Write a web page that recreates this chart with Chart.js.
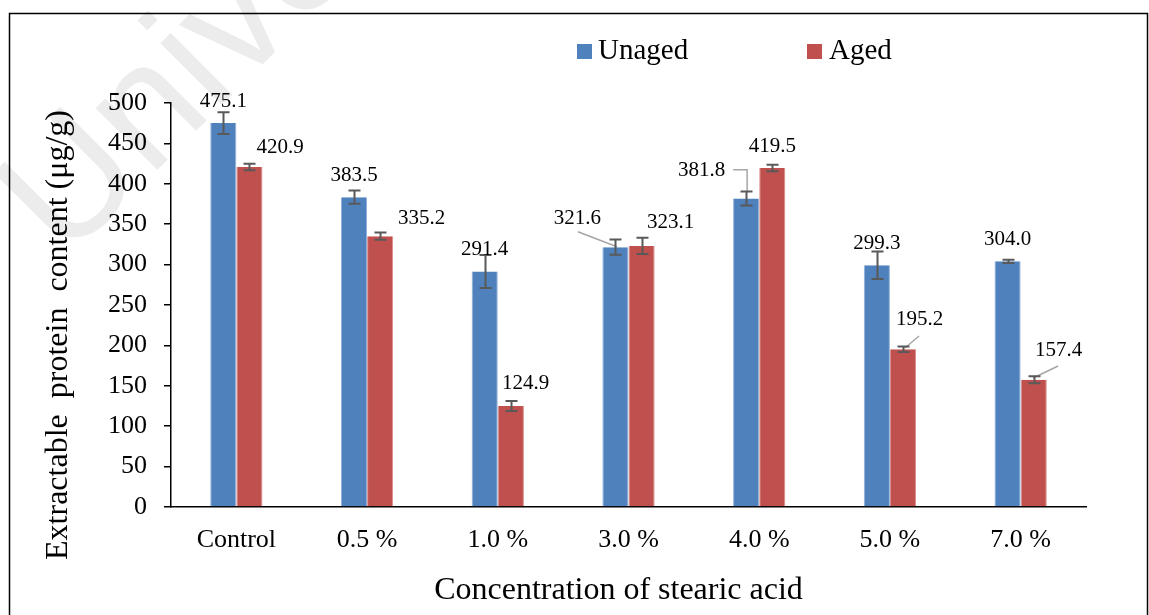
<!DOCTYPE html>
<html>
<head>
<meta charset="utf-8">
<script src="https://cdn.jsdelivr.net/npm/chart.js@4/dist/chart.umd.min.js"></script>
<style>
  html, body { margin: 0; padding: 0; background: #fff; }
  canvas { display: block; }
</style>
</head>
<body>
<canvas id="chart" width="1149" height="615"></canvas>
<script>
// Extractable protein content by stearic acid concentration
const categories = ['Control', '0.5 %', '1.0 %', '3.0 %', '4.0 %', '5.0 %', '7.0 %'];
const seriesNames = ['Unaged', 'Aged'];
const unagedValues = [475.1, 383.5, 291.4, 321.6, 381.8, 299.3, 304.0];
const agedValues = [420.9, 335.2, 124.9, 323.1, 419.5, 195.2, 157.4];
// standard deviations shown as error bars
const unagedErrors = [13.5, 8.3, 20.5, 9.5, 8.7, 17.0, 2.0];
const agedErrors = [4.0, 4.5, 6.2, 10.0, 4.0, 3.3, 4.3];
const yMin = 0, yMax = 500, yStep = 50;
const xTitle = 'Concentration of stearic acid';
const yTitle = 'Extractable  protein  content (μg/g)';

const SERIF = "'Liberation Serif', 'Times New Roman', serif";
const SANS = "'Liberation Sans', Arial, sans-serif";
const COLORS = ['#4F81BD', '#C0504D'];
const EDGES = ['#8FB0DA', '#DA8C8A'];

// label placement: offset of text centre from the top-centre of its bar (px)
const labelOffsets = [
  [[0, -22], [0, -22], [0, -22], [-38, -29], [-44.5, -28], [0, -22], [0, -22]],
  [[30.6, -19.3], [41.5, -18], [14.7, -23], [29, -23], [0, -22], [16.5, -30], [25, -29]]
];
// leader lines: polylines relative to the top-centre of their bar (px)
const leaders = [
  { ds: 0, i: 3, pts: [[-37.5, -15.4], [1.5, -0.4]] },
  { ds: 0, i: 4, pts: [[-13, -28.8], [1, -28.8], [1, -6.8]] },
  { ds: 1, i: 5, pts: [[2, -1.3], [16, -13.3]] },
  { ds: 1, i: 6, pts: [[-0.6, -1.8], [24.4, -13.8]] }
];

const errorSets = [unagedErrors, agedErrors];

const decorations = {
  id: 'decorations',
  beforeDraw(chart) {
    const ctx = chart.ctx;
    ctx.save();
    // faint diagonal watermark
    ctx.fillStyle = '#ececec';
    ctx.font = '165px ' + SANS;
    ctx.translate(65, 262);
    ctx.rotate(-45 * Math.PI / 180);
    ctx.textBaseline = 'alphabetic';
    ctx.fillText('University', 0, 0);
    ctx.restore();

    ctx.save();
    ctx.strokeStyle = '#000';
    ctx.lineWidth = 1.5;
    ctx.strokeRect(9.5, 13.5, 1138, 640);
    ctx.restore();
  },
  afterDatasetsDraw(chart) {
    const ctx = chart.ctx;
    const yScale = chart.scales.y;
    ctx.save();

    // leader lines
    ctx.strokeStyle = '#A6A6A6';
    ctx.lineWidth = 1.5;
    leaders.forEach(l => {
      const bar = chart.getDatasetMeta(l.ds).data[l.i];
      ctx.beginPath();
      l.pts.forEach((p, k) => {
        const x = bar.x + p[0], y = bar.y + p[1];
        if (k === 0) ctx.moveTo(x, y); else ctx.lineTo(x, y);
      });
      ctx.stroke();
    });

    // error bars
    ctx.strokeStyle = '#595959';
    ctx.lineWidth = 2;
    chart.data.datasets.forEach((ds, d) => {
      const meta = chart.getDatasetMeta(d);
      meta.data.forEach((bar, i) => {
        const v = ds.data[i], e = errorSets[d][i];
        const x = Math.round(bar.x) + 0.5;
        const yTop = yScale.getPixelForValue(v + e);
        const yBot = yScale.getPixelForValue(v - e);
        const cap = 6;
        ctx.beginPath();
        ctx.moveTo(x, yTop); ctx.lineTo(x, yBot);
        ctx.moveTo(x - cap, yTop); ctx.lineTo(x + cap, yTop);
        ctx.moveTo(x - cap, yBot); ctx.lineTo(x + cap, yBot);
        ctx.stroke();
      });
    });

    // value labels
    ctx.fillStyle = '#000';
    ctx.font = '21px ' + SERIF;
    ctx.textAlign = 'center';
    ctx.textBaseline = 'middle';
    chart.data.datasets.forEach((ds, d) => {
      const meta = chart.getDatasetMeta(d);
      meta.data.forEach((bar, i) => {
        const o = labelOffsets[d][i];
        ctx.fillText(ds.data[i].toFixed(1), bar.x + o[0], bar.y + o[1]);
      });
    });
    ctx.restore();
  },
  afterDraw(chart) {
    const ctx = chart.ctx;
    ctx.save();
    ctx.fillStyle = '#000';

    // axis titles
    ctx.font = '32px ' + SERIF;
    ctx.textAlign = 'center';
    ctx.textBaseline = 'middle';
    ctx.fillText(xTitle, 618.5, 591);
    ctx.save();
    ctx.translate(59, 335);
    ctx.rotate(-Math.PI / 2);
    ctx.fillText(yTitle, 0, 0);
    ctx.restore();

    // legend row
    const boxX = [577, 807];
    const textX = [598, 829];
    ctx.font = '29px ' + SERIF;
    ctx.textAlign = 'left';
    chart.data.datasets.forEach((ds, d) => {
      ctx.fillStyle = ds.backgroundColor;
      ctx.fillRect(boxX[d], 44, 15, 15);
      ctx.fillStyle = '#000';
      ctx.fillText(ds.label, textX[d], 51.5);
    });
    ctx.restore();
  }
};

new Chart(document.getElementById('chart'), {
  type: 'bar',
  data: {
    labels: categories,
    datasets: [
      { label: seriesNames[0], data: unagedValues, backgroundColor: COLORS[0], borderColor: EDGES[0], borderWidth: { left: 1, right: 1, top: 0, bottom: 0 } },
      { label: seriesNames[1], data: agedValues, backgroundColor: COLORS[1], borderColor: EDGES[1], borderWidth: { left: 1, right: 1, top: 0, bottom: 0 } }
    ]
  },
  options: {
    responsive: false,
    animation: false,
    categoryPercentage: 0.4,
    barPercentage: 1.0,
    layout: { padding: { left: 0, right: 63, top: 103, bottom: 0 } },
    plugins: { legend: { display: false }, tooltip: { enabled: false } },
    scales: {
      x: {
        grid: { display: false, drawTicks: false },
        border: { display: true, color: '#000', width: 1.5 },
        ticks: { font: { family: SERIF, size: 26 }, color: '#000', padding: 18 },
        afterFit(scale) { scale.height = 108; }
      },
      y: {
        min: yMin, max: yMax,
        ticks: { stepSize: yStep, font: { family: SERIF, size: 26 }, color: '#000', padding: 17 },
        grid: { drawOnChartArea: false, drawTicks: true, tickLength: 7, color: '#000', lineWidth: 1.5 },
        border: { display: true, color: '#000', width: 1.5 },
        afterFit(scale) { scale.width = 171; }
      }
    }
  },
  plugins: [decorations]
});
</script>
</body>
</html>
